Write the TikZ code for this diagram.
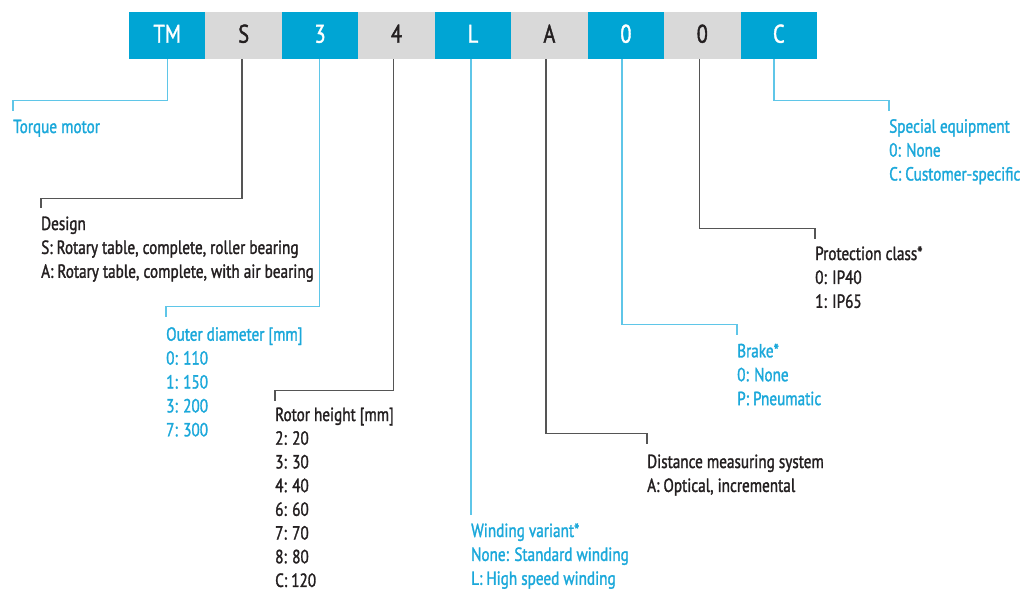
\documentclass[tikz,border=0pt]{standalone}
\usepackage{fontspec}
\setmainfont[FakeStretch=0.8,FakeBold=1.5]{PT Sans}
\usetikzlibrary{calc}
\definecolor{boxblue}{RGB}{0,165,212}
\definecolor{boxgray}{RGB}{217,217,217}
\definecolor{txtblue}{RGB}{27,168,218}
\definecolor{lineblue}{RGB}{95,198,232}
\definecolor{txtdark}{RGB}{35,31,32}
\definecolor{linedark}{RGB}{85,85,85}
\newcommand\lblock[6]{\foreach \ltext [count=\i from 0] in {#6}{\node[#4] (#1-\i) at (#2,{#3+#5*\i}) {\ltext};}}
\begin{document}
\begin{tikzpicture}[x=1pt,y=-1pt,
 codebox/.style={minimum width=76.44pt, minimum height=47pt, inner sep=0pt, text height=18pt, text depth=3.6pt, font=\fontsize{25.5}{25.5}\selectfont},
 bluebox/.style={codebox, fill=boxblue, text=white},
 graybox/.style={codebox, fill=boxgray, text=txtdark},
 lbl/.style={inner sep=0pt, anchor=base west, font=\fontsize{19}{24}\selectfont},
 bluelbl/.style={lbl, text=txtblue},
 darklbl/.style={lbl, text=txtdark},
 blueconn/.style={draw=lineblue, line width=1.4pt},
 darkconn/.style={draw=linedark, line width=1.3pt}]
\useasboundingbox (0,0) rectangle (1024,592);
% code boxes
\node[bluebox] (b1) at (167.2,35.5) {TM};
\node[graybox] (b2) at (243.7,35.5) {S};
\node[bluebox] (b3) at (320.1,35.5) {3};
\node[graybox] (b4) at (396.5,35.5) {4};
\node[bluebox] (b5) at (473.0,35.5) {L};
\node[graybox] (b6) at (549.4,35.5) {A};
\node[bluebox] (b7) at (625.9,35.5) {0};
\node[graybox] (b8) at (702.3,35.5) {0};
\node[bluebox] (b9) at (778.8,35.5) {C};
% labels
\lblock{tq}{13}{133}{bluelbl}{23.9}{Torque motor}
\lblock{des}{41}{230}{darklbl}{23.9}{Design,{S: Rotary table, complete, roller bearing},{A: Rotary table, complete, with air bearing}}
\lblock{od}{166}{340.7}{bluelbl}{23.9}{Outer diameter [mm],0: 110,1: 150,3: 200,7: 300}
\lblock{rh}{275}{421}{darklbl}{23.7}{Rotor height [mm],2: 20,3: 30,4: 40,6: 60,7: 70,8: 80,C: 120}
\lblock{wv}{471}{537}{bluelbl}{23.9}{Winding variant*,None: Standard winding,L: High speed winding}
\lblock{dm}{647}{468}{darklbl}{23.9}{Distance measuring system,{A: Optical, incremental}}
\lblock{br}{737}{357.3}{bluelbl}{23.9}{Brake*,0: None,P: Pneumatic}
\lblock{pc}{815}{260}{darklbl}{23.9}{Protection class*,0: IP40,1: IP65}
\lblock{se}{889}{132.7}{bluelbl}{23.9}{Special equipment,0: None,C: Customer-specific}
% connectors
\draw[blueconn] ([xshift=0.4pt]b1.south) -- ++(0,41) -| ($(tq-0.base west)+(0,-22)$);
\draw[darkconn] ([xshift=-1.6pt]b2.south) -- ++(0,139) -| ($(des-0.base west)+(0,-22)$);
\draw[blueconn] ([xshift=-0.8pt]b3.south) -- ++(0,247) -| ($(od-0.base west)+(0,-24)$);
\draw[darkconn] ([xshift=-3.2pt]b4.south) -- ++(0,331) -| ($(rh-0.base west)+(0,-20)$);
\draw[blueconn] ([xshift=-2pt]b5.south) -- ($(wv-0.base west)+(0,-22)$);
\draw[darkconn] ([xshift=-3.4pt]b6.south) -- ++(0,374) -| ($(dm-0.base west)+(0,-24)$);
\draw[blueconn] ([xshift=-3.9pt]b7.south) -- ++(0,265) -| ($(br-0.base west)+(0,-22)$);
\draw[darkconn] ([xshift=-3pt]b8.south) -- ++(0,169) -| ($(pc-0.base west)+(0,-21)$);
\draw[blueconn] ([xshift=-4.8pt]b9.south) -- ++(0,41) -| ($(se-0.base west)+(0,-22)$);
\end{tikzpicture}
\end{document}
